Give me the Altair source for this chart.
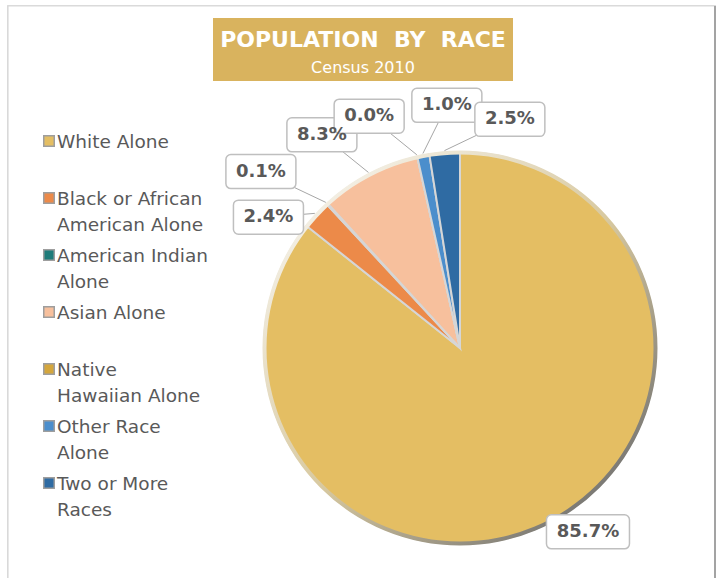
import altair as alt
import pandas as pd

# ---- data ----
races = ["White Alone", "Black or African American Alone", "American Indian Alone",
         "Asian Alone", "Native Hawaiian Alone", "Other Race Alone", "Two or More Races"]
legend_labels = ["White Alone", "Black or African\nAmerican Alone", "American Indian\nAlone",
                 "Asian Alone", "Native\nHawaiian Alone", "Other Race\nAlone", "Two or More\nRaces"]
pct = [85.7, 2.4, 0.1, 8.3, 0.0, 1.0, 2.5]

# ---- layout / style ----
slice_colors = ["#E4BE63", "#EC8A49", "#1F7C7A", "#F7C09D", "#D4A63C", "#4B8ECC", "#2F6BA3"]
label_shift_deg = [-9.1, -8.5, -5.8, -5.4, -8.8, 7.7, 16.8]   # label placement nudges
label_radius = [224, 232, 266, 254, 249, 243, 234]
CX, CY, R = 460, 348, 196
W, H = 718, 578

df = pd.DataFrame({
    "race": races,
    "legend": legend_labels,
    "pct": pct,
    "idx": list(range(len(races))),
    "shift": label_shift_deg,
    "lr": label_radius,
})

color_scale = alt.Scale(domain=races, range=slice_colors)
base = alt.Chart(df)

border = base.mark_rect(fill="white", stroke="#d9d9d9", strokeWidth=1.2).encode(
    x=alt.value(8), x2=alt.value(715), y=alt.value(6), y2=alt.value(600))
border_right = base.mark_rule(color="#a3a3a3", strokeWidth=2).encode(
    x=alt.value(715), y=alt.value(6), y2=alt.value(600))

pie = base.mark_arc(radius=R, stroke="#d6d6d6", strokeWidth=2).encode(
    theta=alt.Theta("pct:Q", stack=True),
    color=alt.Color("race:N", scale=color_scale, legend=None),
    order=alt.Order("idx:Q"),
    x=alt.value(CX), y=alt.value(CY),
)

ring = base.mark_arc(
    theta=0, theta2=6.2832, radius=R + 1.5, radius2=R - 2.5,
    color=alt.LinearGradient(
        gradient="linear",
        stops=[alt.GradientStop(color="#f4f0e6", offset=0),
               alt.GradientStop(color="#d8c9a0", offset=0.5),
               alt.GradientStop(color="#6f6f6f", offset=1)],
        x1=0.15, y1=0.1, x2=0.9, y2=0.9),
).encode(x=alt.value(CX), y=alt.value(CY)).transform_filter("datum.idx == 0")

lab = base.transform_window(
    cum="sum(pct)", sort=[alt.SortField("idx")], frame=[None, 0]
).transform_calculate(
    mid="datum.cum - datum.pct / 2",
    amid="datum.mid / 100 * 2 * PI",
    ang="datum.amid + datum.shift * PI / 180",
    lx=f"{CX} + datum.lr * sin(datum.ang)",
    ly=f"{CY} - datum.lr * cos(datum.ang)",
    ex=f"{CX} + {R + 2} * sin(datum.amid)",
    ey=f"{CY} - {R + 2} * cos(datum.amid)",
    label="format(datum.pct, '.1f') + '%'",
    bw="13 * length(datum.label) + 18",
    bx1="datum.lx - datum.bw / 2",
    bx2="datum.lx + datum.bw / 2",
    by1="datum.ly - 17",
    by2="datum.ly + 17",
)

leaders = lab.mark_rule(color="#a6a6a6", strokeWidth=1).encode(
    x=alt.X("ex:Q", scale=None, axis=None), y=alt.Y("ey:Q", scale=None, axis=None),
    x2="lx:Q", y2="ly:Q")

boxes = lab.mark_rect(cornerRadius=5, fill="white", stroke="#bfbfbf", strokeWidth=1.5).encode(
    x=alt.X("bx1:Q", scale=None, axis=None), x2="bx2:Q",
    y=alt.Y("by1:Q", scale=None, axis=None), y2="by2:Q")

labels = lab.mark_text(font="DejaVu Sans", fontWeight="bold", fontSize=18, color="#595959",
                       align="center", baseline="middle").encode(
    x=alt.X("lx:Q", scale=None, axis=None), y=alt.Y("ly:Q", scale=None, axis=None),
    text="label:N")

leg_y = alt.Y("idx:Q", scale=alt.Scale(domain=[0, 6], range=[141, 483]), axis=None)
leg_marks = base.mark_square(size=110, stroke="#9e9e9e", strokeWidth=1.5, opacity=1).encode(
    x=alt.value(49), y=leg_y,
    color=alt.Color("race:N", scale=color_scale, legend=None))
leg_text = base.mark_text(font="DejaVu Sans", fontSize=18.5, color="#595959", align="left",
                          baseline="alphabetic", lineBreak="\n", lineHeight=26, dy=7).encode(
    x=alt.value(57), y=leg_y, text="legend:N")

title_box = base.mark_rect(fill="#D9B35E").encode(
    x=alt.value(213), x2=alt.value(513), y=alt.value(18), y2=alt.value(81)
).transform_filter("datum.idx == 0")
title1 = base.mark_text(text="POPULATION\u00a0 BY\u00a0 RACE", font="DejaVu Sans", fontWeight="bold",
                        fontSize=22, color="white", align="center", baseline="alphabetic").encode(
    x=alt.value(363), y=alt.value(47)).transform_filter("datum.idx == 0")
title2 = base.mark_text(text="Census 2010", font="DejaVu Sans", fontSize=16, color="white",
                        align="center", baseline="alphabetic").encode(
    x=alt.value(363), y=alt.value(73)).transform_filter("datum.idx == 0")

chart = alt.layer(
    border, border_right, title_box, title1, title2, pie, ring, leaders, boxes, labels,
    leg_marks, leg_text
).resolve_scale(
    x="independent", y="independent", color="shared"
).properties(
    width=W, height=H, padding=0, autosize=alt.AutoSizeParams(type="none")
).configure_view(stroke=None)

chart.save("out.html", embed_options={"renderer": "svg", "actions": False})
